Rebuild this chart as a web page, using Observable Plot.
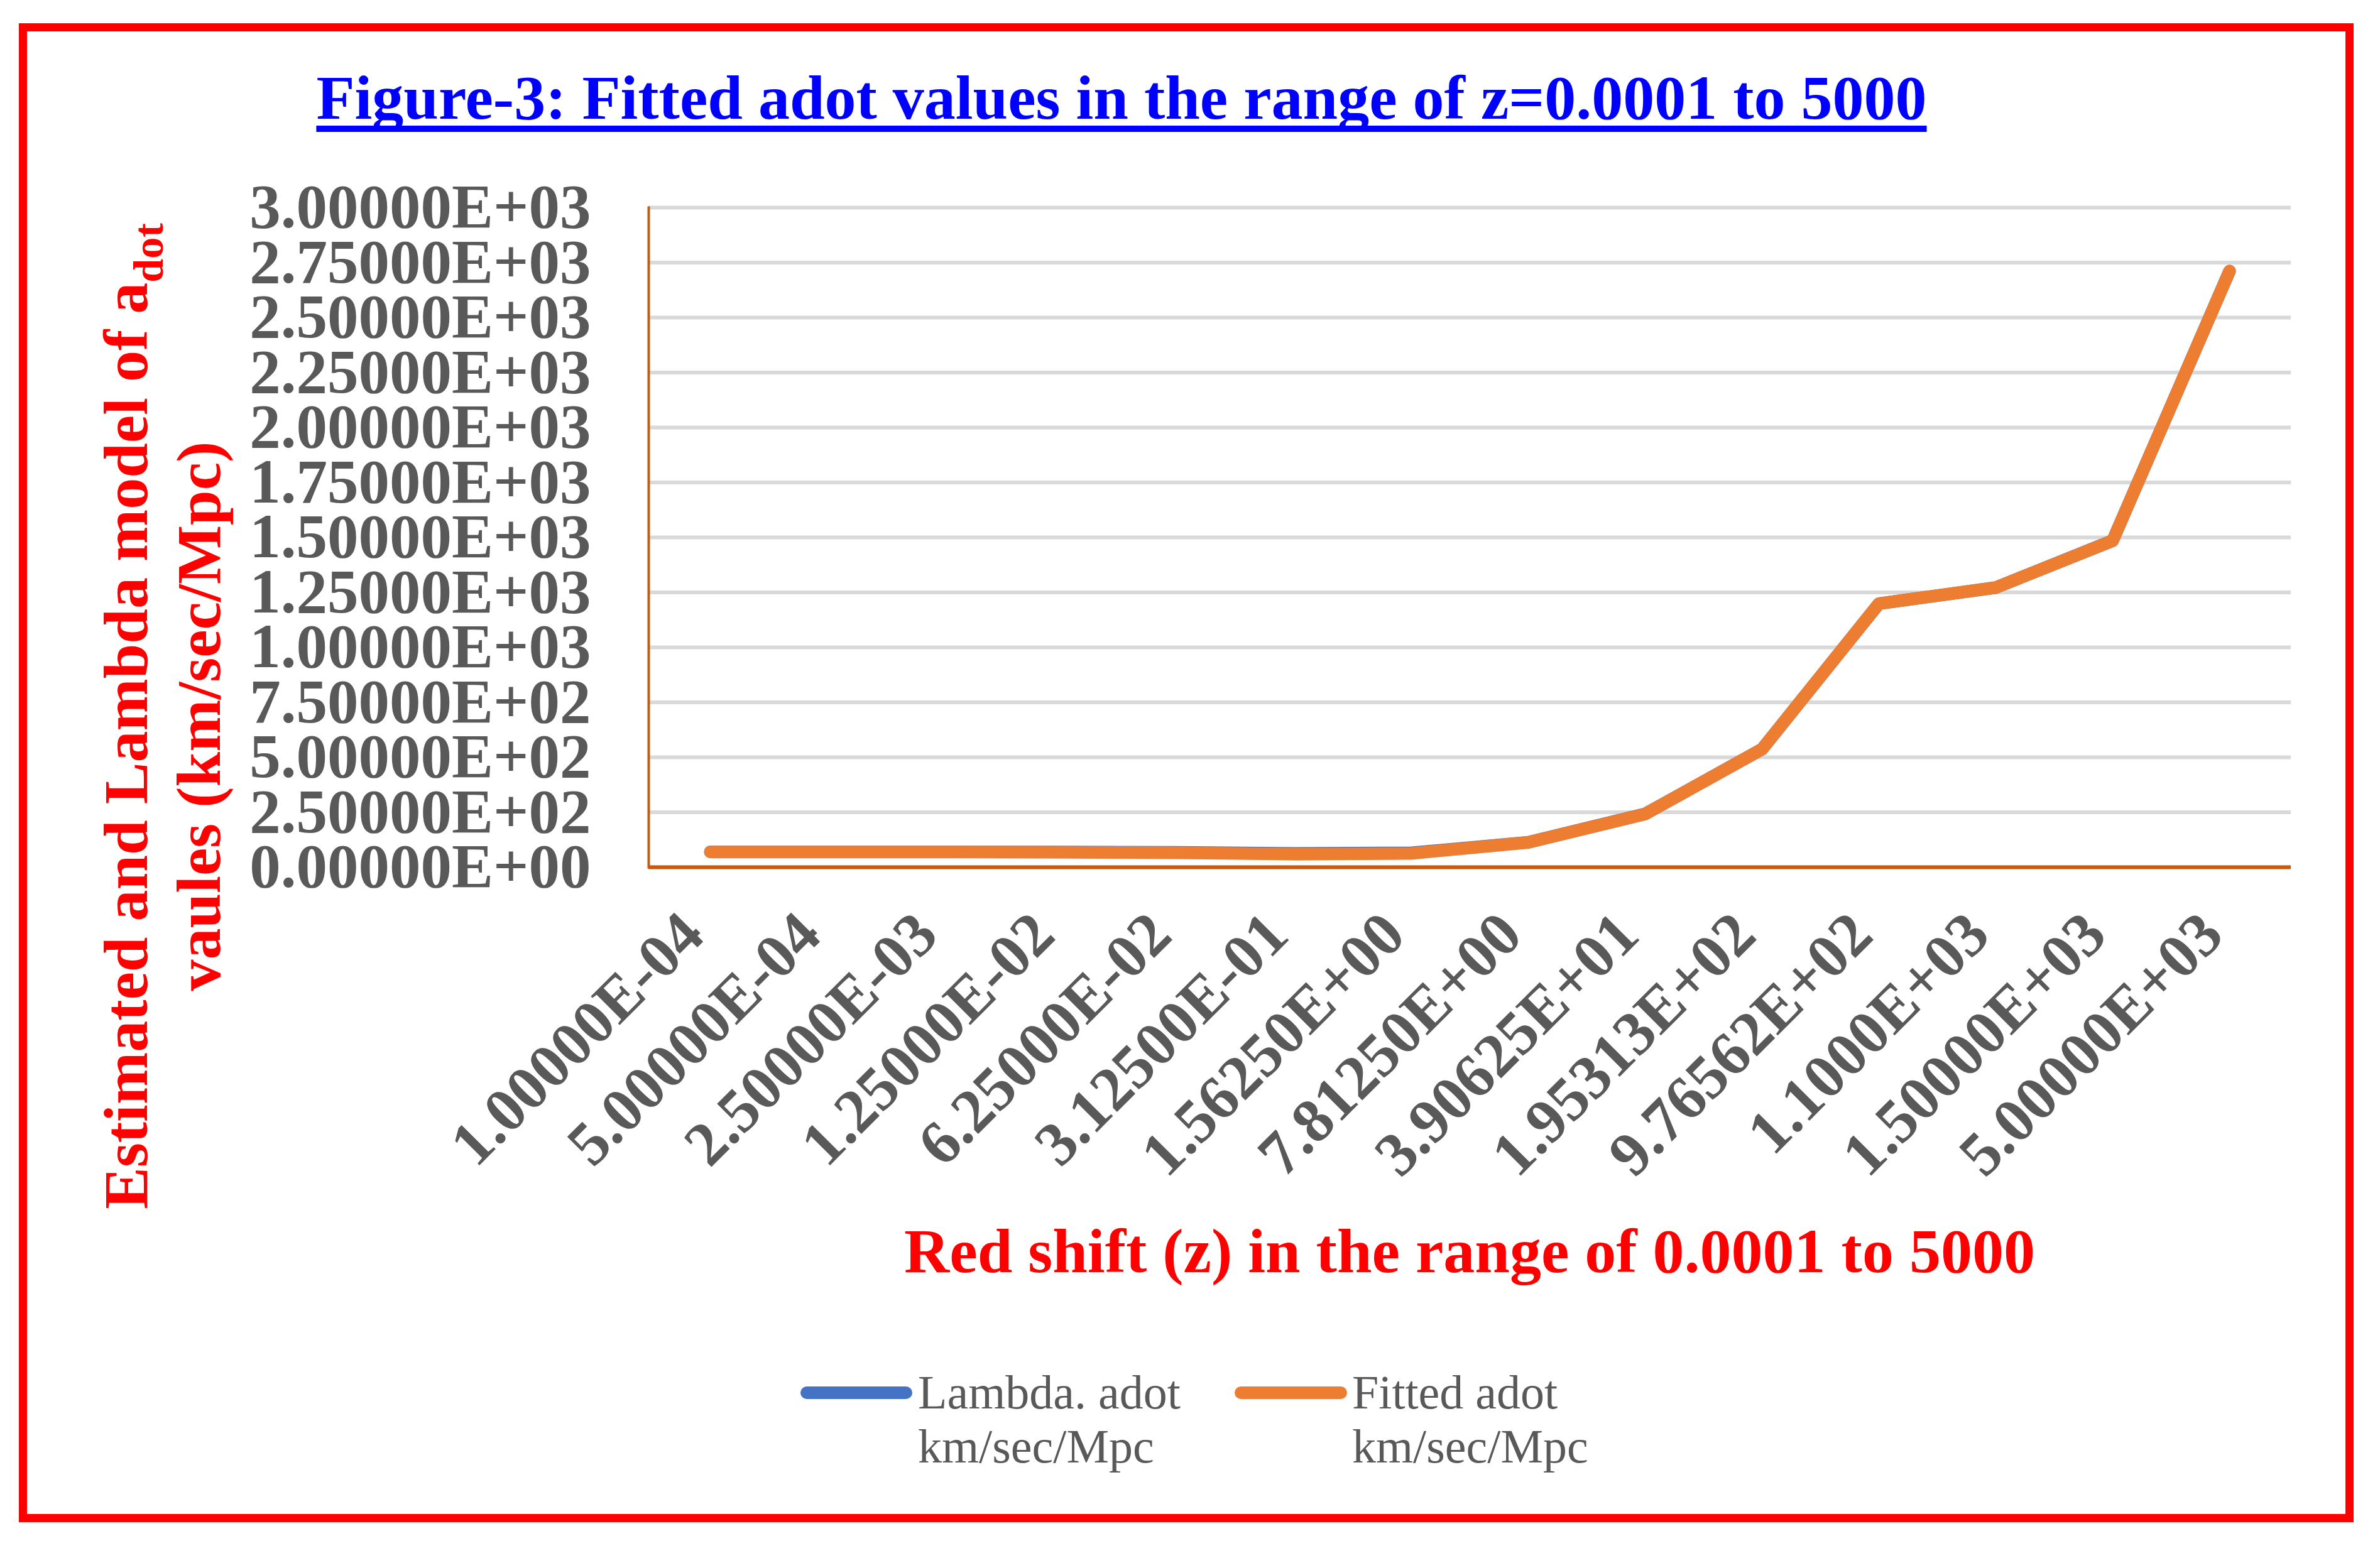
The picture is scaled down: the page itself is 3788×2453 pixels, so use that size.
<!DOCTYPE html>
<html>
<head>
<meta charset="utf-8">
<script src="https://cdn.jsdelivr.net/npm/d3@7"></script>
<script src="https://cdn.jsdelivr.net/npm/@observablehq/plot@0.6"></script>
<style>
  html, body { margin: 0; padding: 0; background: #ffffff; }
  #page { position: relative; width: 3788px; height: 2453px; overflow: hidden; background: #fff;
          font-family: "Liberation Serif", "Times New Roman", serif; }
  #border { position: absolute; left: 30px; top: 37px; width: 3716px; height: 2386px;
            box-sizing: border-box; border: 13px solid #FF0000; }
  #chart { position: absolute; left: 0; top: 0; }
  #title { position: absolute; left: 1785px; top: 106px; transform: translateX(-50%);
           white-space: nowrap; font-size: 100px; line-height: 100px; font-weight: bold; color: #0000FF;
           text-decoration: underline; text-decoration-thickness: 10px; text-underline-offset: 11px;
           text-decoration-skip-ink: none; }
  #xtitle { position: absolute; left: 2339px; top: 1942px; transform: translateX(-50%);
            white-space: nowrap; font-size: 100px; line-height: 100px; font-weight: bold; color: #FF0000; }
  #ytitle { position: absolute; left: 259px; top: 1140px; transform: translate(-50%, -50%) rotate(-90deg);
            white-space: nowrap; font-size: 100px; line-height: 116px; font-weight: bold; color: #FF0000;
            text-align: center; }
  #ytitle sub { font-size: 68px; line-height: 0; vertical-align: -25px; }
  .leg { position: absolute; font-size: 76px; line-height: 86px; color: #595959; white-space: nowrap; }
  .sw { position: absolute; height: 20px; border-radius: 10px; }
</style>
</head>
<body>
<div id="page">
  <div id="border"></div>
  <div id="chart"></div>
  <div id="title">Figure-3: Fitted adot values in the range of z=0.0001 to 5000</div>
  <div id="ytitle">Estimated and Lambda model of a<sub>dot</sub><br>vaules (km/sec/Mpc)</div>
  <div id="xtitle">Red shift (z) in the range of 0.0001 to 5000</div>
  <div class="sw" style="left:1274px; top:2207px; width:178px; background:#4472C4;"></div>
  <div class="leg" style="left:1461px; top:2173px;">Lambda. adot<br>km/sec/Mpc</div>
  <div class="sw" style="left:1965px; top:2207px; width:179px; background:#ED7D31;"></div>
  <div class="leg" style="left:2152px; top:2173px;">Fitted adot<br>km/sec/Mpc</div>
</div>
<script>
// Red shift categories (x tick labels as shown)
const zLabels = [
  "1.00000E-04", "5.00000E-04", "2.50000E-03", "1.25000E-02", "6.25000E-02",
  "3.12500E-01", "1.56250E+00", "7.81250E+00", "3.90625E+01", "1.95313E+02",
  "9.76562E+02", "1.1000E+03", "1.50000E+03", "5.00000E+03"
];
// Lambda model adot (km/sec/Mpc)
const lambdaAdot = [69.99, 69.98, 69.90, 69.52, 67.83, 62.61, 65.49, 114.0, 242.7, 537.2, 1198.8, 1272.2, 1485.4, 2711.4];
// Fitted adot (km/sec/Mpc)
const fittedAdot = [69.5, 69.4, 69.2, 68.5, 66.0, 59.5, 63.0, 113.0, 242.0, 537.0, 1199.0, 1272.0, 1485.0, 2711.0];
// Y axis ticks and their labels
const yTicks = [0, 250, 500, 750, 1000, 1250, 1500, 1750, 2000, 2250, 2500, 2750, 3000];
const yTickLabels = [
  "0.00000E+00", "2.50000E+02", "5.00000E+02", "7.50000E+02", "1.00000E+03",
  "1.25000E+03", "1.50000E+03", "1.75000E+03", "2.00000E+03", "2.25000E+03",
  "2.50000E+03", "2.75000E+03", "3.00000E+03"
];

const data = zLabels.map((z, i) => ({ z, lambda: lambdaAdot[i], fitted: fittedAdot[i] }));

const chart = Plot.plot({
  width: 3788,
  height: 1720,
  marginLeft: 1032,
  marginRight: 142,
  marginTop: 330,
  marginBottom: 340,
  style: {
    fontFamily: "'Liberation Serif', 'Times New Roman', serif",
    fontWeight: "bold",
    color: "#595959",
    background: "transparent",
    overflow: "visible"
  },
  x: { type: "point", domain: zLabels, padding: 0.5, label: null },
  y: { domain: [0, 3000], label: null },
  marks: [
    Plot.ruleY(yTicks, { stroke: "#D9D9D9", strokeWidth: 6 }),
    Plot.frame({ anchor: "left", stroke: "#C55A11", strokeWidth: 4 }),
    Plot.ruleY([0], { stroke: "#C55A11", strokeWidth: 6 }),
    Plot.axisY({
      ticks: yTicks,
      tickFormat: d => yTickLabels[yTicks.indexOf(d)],
      tickSize: 0,
      tickPadding: 92,
      fontSize: 99,
      fontWeight: "bold",
      label: null
    }),
    Plot.axisX({
      tickSize: 0,
      tickRotate: -45,
      tickPadding: 90,
      dx: -28,
      fontSize: 99,
      fontWeight: "bold",
      label: null
    }),
    Plot.lineY(data, { x: "z", y: "lambda", stroke: "#4472C4", strokeWidth: 20,
      strokeLinecap: "round", strokeLinejoin: "round" }),
    Plot.lineY(data, { x: "z", y: "fitted", stroke: "#ED7D31", strokeWidth: 20,
      strokeLinecap: "round", strokeLinejoin: "round" })
  ]
});
document.getElementById("chart").appendChild(chart);
</script>
</body>
</html>
